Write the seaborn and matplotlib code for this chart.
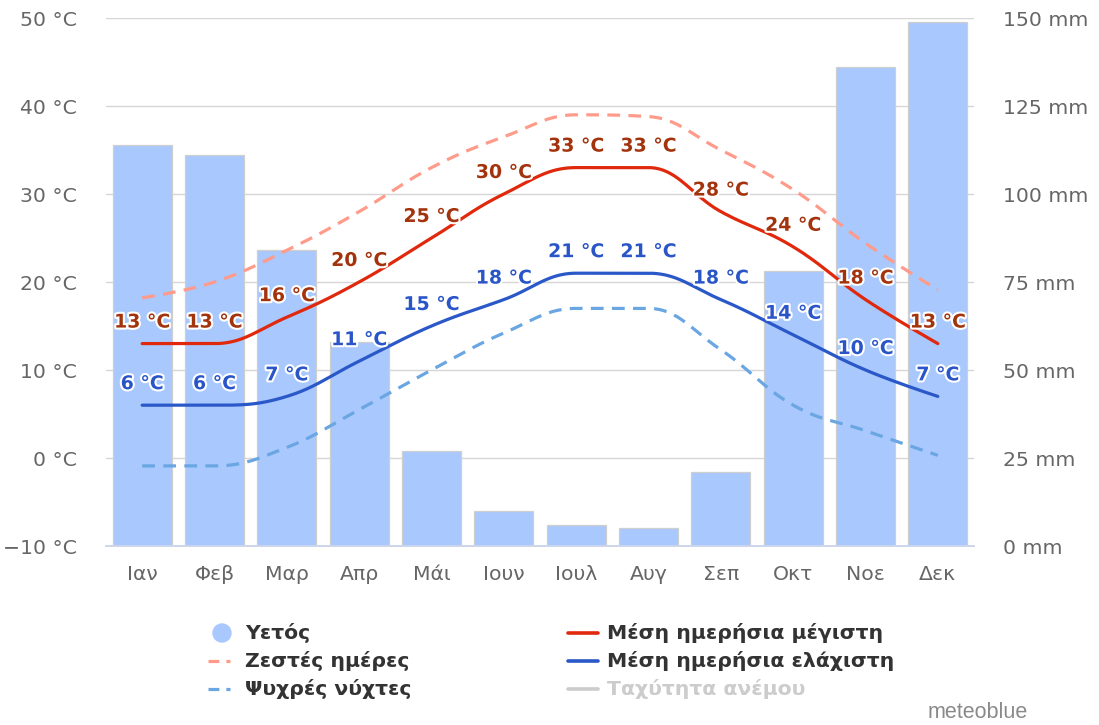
import numpy as np
import pandas as pd
import matplotlib
matplotlib.use("Agg")
import matplotlib.pyplot as plt
import matplotlib.patheffects as pe
from matplotlib.lines import Line2D
import seaborn as sns

# Monthly climate data
months = ["Ιαν", "Φεβ", "Μαρ", "Απρ", "Μάι", "Ιουν", "Ιουλ", "Αυγ", "Σεπ", "Οκτ", "Νοε", "Δεκ"]
precip_mm = [114, 111, 84, 58, 27, 10, 6, 5, 21, 78, 136, 149]
temp_max = [13, 13, 16, 20, 25, 30, 33, 33, 28, 24, 18, 13]
temp_min = [6, 6, 7, 11, 15, 18, 21, 21, 18, 14, 10, 7]
hot_days = [18.2, 20.0, 23.6, 28.0, 33.0, 36.5, 39.0, 38.8, 35.0, 30.5, 24.4, 19.1]
cold_nights = [-0.9, -0.9, 1.2, 5.5, 10.0, 14.2, 17.0, 17.0, 12.3, 6.0, 3.1, 0.3]

legend_labels = ["Υετός", "Ζεστές ημέρες", "Ψυχρές νύχτες",
                 "Μέση ημερήσια μέγιστη", "Μέση ημερήσια ελάχιστη", "Ταχύτητα ανέμου"]

C_BAR = "#a9c8fd"
C_MAX = "#e0290c"
C_MIN = "#2a58c8"
C_HOT = "#ff9b8a"
C_COLD = "#6aa6e2"
C_MAX_LBL = "#a3330d"
C_MIN_LBL = "#2a55c8"
GRID = "#d6d6d6"
TICK_TXT = "#666666"
FS = 14.7
FS_LBL = 13.6


def spline(xv, yv, smoothing=1.5, per_seg=40):
    """Cubic Bezier spline through the points (Highcharts-style smoothing)."""
    xv = np.asarray(xv, float)
    yv = np.asarray(yv, float)
    n = len(xv)
    denom = smoothing + 1
    lc = [(xv[i], yv[i]) for i in range(n)]
    rc = [(xv[i], yv[i]) for i in range(n)]
    for i in range(1, n - 1):
        px, py = xv[i], yv[i]
        lx, ly = xv[i - 1], yv[i - 1]
        nx, ny = xv[i + 1], yv[i + 1]
        lcx = (smoothing * px + lx) / denom
        lcy = (smoothing * py + ly) / denom
        rcx = (smoothing * px + nx) / denom
        rcy = (smoothing * py + ny) / denom
        corr = 0.0
        if rcx != lcx:
            corr = (rcy - lcy) * (rcx - px) / (rcx - lcx) + py - rcy
        lcy += corr
        rcy += corr
        if lcy > ly and lcy > py:
            lcy = max(ly, py); rcy = 2 * py - lcy
        elif lcy < ly and lcy < py:
            lcy = min(ly, py); rcy = 2 * py - lcy
        if rcy > ny and rcy > py:
            rcy = max(ny, py); lcy = 2 * py - rcy
        elif rcy < ny and rcy < py:
            rcy = min(ny, py); lcy = 2 * py - rcy
        lc[i] = (lcx, lcy)
        rc[i] = (rcx, rcy)
    xs, ys = [], []
    t = np.linspace(0, 1, per_seg)
    for i in range(1, n):
        p0 = np.array([xv[i - 1], yv[i - 1]])
        p1 = np.array(rc[i - 1])
        p2 = np.array(lc[i])
        p3 = np.array([xv[i], yv[i]])
        b = ((1 - t) ** 3)[:, None] * p0 + (3 * (1 - t) ** 2 * t)[:, None] * p1 \
            + (3 * (1 - t) * t ** 2)[:, None] * p2 + (t ** 3)[:, None] * p3
        if i > 1:
            b = b[1:]
        xs.append(b[:, 0]); ys.append(b[:, 1])
    return np.concatenate(xs), np.concatenate(ys)


sns.set_theme(style="white")
plt.rcParams["font.family"] = ["DejaVu Sans"]

fig = plt.figure(figsize=(10.99, 7.25), dpi=100)
ax = fig.add_axes([106 / 1099, 1 - 546 / 725, 868 / 1099, 528 / 725])

# Precipitation bars (mm, right-hand scale)
df = pd.DataFrame({"month": months, "mm": precip_mm})
sns.barplot(data=df, x="month", y="mm", ax=ax, color=C_BAR, saturation=1,
            width=0.82, edgecolor="#cfcfcf", linewidth=0.9, zorder=2)
ax.set_ylim(0, 150)
ax.set_xlim(-0.5, 11.5)
ax.grid(axis="y", color=GRID, linewidth=1.0)
ax.set_axisbelow(True)
ax.set_xlabel("")
ax.set_ylabel("")

# Temperature lines (°C, left-hand scale)
ax2 = ax.twinx()
ax.yaxis.tick_right()
ax.yaxis.set_label_position("right")
ax.set_yticks(np.arange(0, 151, 25))
ax.set_yticklabels([f"{v} mm" for v in range(0, 151, 25)])
ax2.yaxis.tick_left()
ax2.set_ylim(-10, 50)
ax2.set_yticks(np.arange(-10, 51, 10))
ax2.set_yticklabels([f"{v} °C".replace("-", "−") for v in range(-10, 51, 10)])
ax2.grid(False)

xi = np.arange(len(months))
dash = (0, (4.0, 2.6))
series = [
    (hot_days, C_HOT, dash),
    (cold_nights, C_COLD, dash),
    (temp_max, C_MAX, "-"),
    (temp_min, C_MIN, "-"),
]
for vals, col, ls in series:
    sx, sy = spline(xi, vals)
    sns.lineplot(x=sx, y=sy, ax=ax2, color=col, linewidth=2.3, linestyle=ls,
                 sort=False, estimator=None, zorder=3)

halo = [pe.withStroke(linewidth=3, foreground="white")]
for vals, col in [(temp_max, C_MAX_LBL), (temp_min, C_MIN_LBL)]:
    for i, v in enumerate(vals):
        ax2.annotate(f"{v} °C", (i, v), xytext=(0, 15.5), textcoords="offset points",
                     ha="center", va="center", fontsize=FS_LBL, fontweight="bold",
                     color=col, path_effects=halo, zorder=5)

for a in (ax, ax2):
    for s in ("top", "left", "right"):
        a.spines[s].set_visible(False)
    a.spines["bottom"].set_color("#ccd6eb")
    a.spines["bottom"].set_linewidth(1.2)
    a.tick_params(axis="y", length=0, labelsize=FS, labelcolor=TICK_TXT, pad=21)
ax.tick_params(axis="x", length=0, labelsize=FS, labelcolor=TICK_TXT, pad=14)
ax2.tick_params(axis="x", length=0)

# Legend
def fx(px):
    return px / 1099


def fy(py):
    return 1 - py / 725


rows = [633, 661, 689]
col1_txt, col2_txt = 245, 607
fig.patches.append(matplotlib.patches.Ellipse((fx(222), fy(633)), 18 / 1099, 18 / 725,
                                              transform=fig.transFigure, color=C_BAR))
fig.lines.append(Line2D([fx(208), fx(230)], [fy(661)] * 2, transform=fig.transFigure,
                        color=C_HOT, lw=2.3, ls=(0, (3.4, 2.2))))
fig.lines.append(Line2D([fx(208), fx(230)], [fy(689)] * 2, transform=fig.transFigure,
                        color=C_COLD, lw=2.3, ls=(0, (3.4, 2.2))))
for r, col in zip(rows, [C_MAX, C_MIN, "#cccccc"]):
    fig.lines.append(Line2D([fx(568), fx(598)], [fy(r)] * 2, transform=fig.transFigure,
                            color=col, lw=2.6))
for i, lab in enumerate(legend_labels):
    x = col1_txt if i < 3 else col2_txt
    c = "#cccccc" if i == 5 else "#333333"
    fig.text(fx(x), fy(rows[i % 3]), lab, ha="left", va="center",
             fontsize=FS, fontweight="bold", color=c)

fig.text(fx(1028), fy(712), "meteoblue", ha="right", va="center", fontsize=15.5,
         color="#8a8a8a", family="Liberation Sans")

fig.savefig("out.png", dpi=100)
